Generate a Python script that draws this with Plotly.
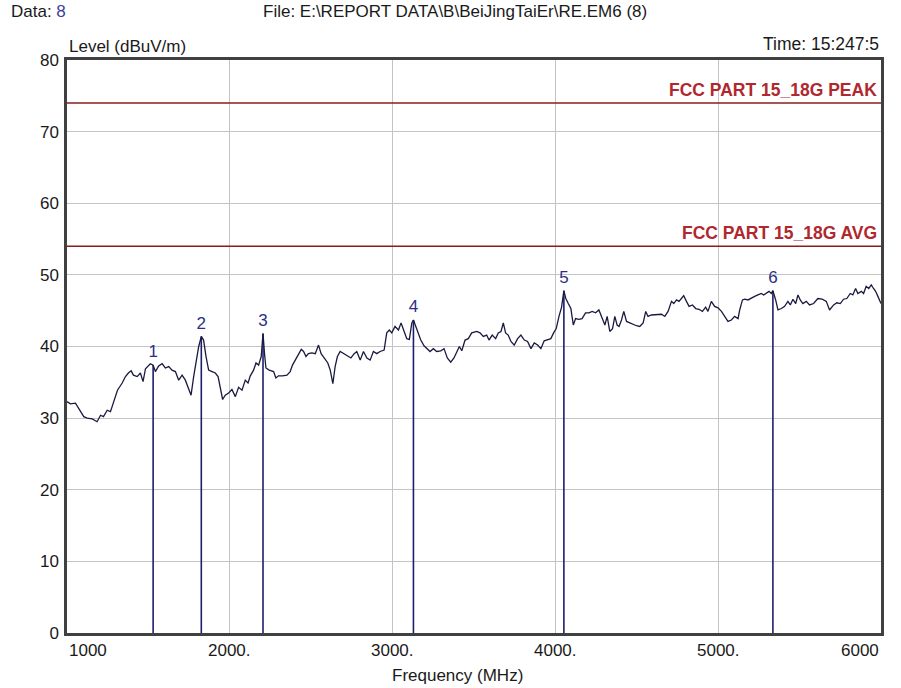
import plotly.graph_objects as go

freq_mhz = [1000, 1021, 1052, 1072, 1103, 1124, 1155, 1185, 1206, 1224, 1247, 1267, 1285, 1310, 1339, 1359,
            1377, 1394, 1408, 1431, 1451, 1467, 1482, 1496, 1512, 1529, 1543, 1563, 1584, 1604, 1625, 1645,
            1666, 1686, 1707, 1727, 1747, 1762, 1778, 1794, 1809, 1825, 1839, 1854, 1870, 1891, 1911, 1928,
            1942, 1956, 1972, 1993, 2013, 2034, 2054, 2075, 2095, 2112, 2126, 2146, 2161, 2177, 2193, 2204,
            2214, 2222, 2242, 2269, 2283, 2299, 2324, 2351, 2371, 2385, 2402, 2422, 2439, 2453, 2468, 2483,
            2504, 2525, 2545, 2561, 2582, 2602, 2617, 2633, 2647, 2661, 2678, 2698, 2719, 2744, 2764, 2780,
            2801, 2821, 2842, 2862, 2882, 2903, 2923, 2948, 2964, 2980, 2995, 3015, 3036, 3052, 3071, 3087,
            3103, 3118, 3128, 3144, 3158, 3173, 3193, 3213, 3230, 3250, 3271, 3296, 3316, 3336, 3357, 3377,
            3394, 3410, 3425, 3445, 3465, 3486, 3517, 3537, 3557, 3578, 3592, 3612, 3633, 3649, 3666, 3680,
            3694, 3710, 3727, 3747, 3768, 3788, 3809, 3829, 3850, 3870, 3891, 3911, 3931, 3952, 3972, 3989,
            4005, 4022, 4038, 4052, 4064, 4079, 4095, 4110, 4124, 4144, 4164, 4185, 4206, 4226, 4247, 4267,
            4287, 4304, 4318, 4334, 4351, 4365, 4379, 4391, 4406, 4420, 4437, 4457, 4477, 4498, 4518, 4539,
            4555, 4569, 4590, 4621, 4652, 4672, 4692, 4713, 4727, 4744, 4759, 4774, 4788, 4805, 4821, 4842,
            4862, 4882, 4903, 4923, 4937, 4958, 4978, 4999, 5020, 5040, 5060, 5081, 5101, 5122, 5132, 5149,
            5163, 5183, 5204, 5224, 5244, 5265, 5279, 5296, 5312, 5326, 5336, 5353, 5367, 5388, 5408, 5428,
            5443, 5459, 5476, 5490, 5504, 5520, 5541, 5561, 5586, 5612, 5639, 5664, 5684, 5709, 5729, 5750,
            5770, 5790, 5811, 5827, 5844, 5858, 5879, 5893, 5909, 5925, 5940, 5954, 5967, 5981, 6000]

level_dbuv = [32.3, 32.0, 32.1, 31.4, 30.2, 30.0, 29.9, 29.5, 30.4, 30.2, 31.1, 30.9, 32.3, 33.9, 34.9, 35.8,
              36.3, 36.6, 36.0, 35.8, 36.3, 35.1, 36.9, 37.3, 37.6, 37.4, 36.5, 37.3, 37.6, 37.0, 37.2, 36.7,
              36.5, 35.3, 36.0, 35.3, 34.2, 33.2, 35.8, 38.1, 40.0, 41.4, 40.9, 38.6, 36.7, 36.5, 36.3, 35.8,
              33.9, 32.6, 33.2, 33.5, 34.0, 33.0, 34.3, 33.9, 35.3, 34.9, 35.9, 36.7, 37.7, 37.4, 38.6, 41.8,
              38.8, 37.0, 36.7, 36.5, 35.6, 35.9, 35.9, 36.0, 36.5, 37.4, 38.1, 39.0, 39.6, 39.3, 38.6, 39.0,
              39.1, 39.0, 40.2, 39.0, 38.4, 37.7, 36.7, 34.8, 37.2, 38.6, 39.3, 39.0, 38.8, 38.4, 39.0, 39.3,
              38.1, 39.3, 38.4, 38.1, 39.3, 39.0, 39.3, 39.5, 41.9, 42.3, 41.9, 42.8, 42.3, 43.3, 42.1, 41.1,
              41.0, 43.3, 43.7, 42.8, 41.9, 40.9, 40.1, 39.6, 39.3, 39.7, 39.3, 39.4, 39.7, 38.4, 37.8, 38.4,
              39.3, 40.0, 39.4, 40.9, 41.1, 41.9, 42.1, 41.9, 41.4, 41.6, 40.9, 41.6, 41.1, 41.9, 42.1, 43.3,
              41.9, 41.6, 40.7, 40.2, 41.1, 41.6, 40.9, 40.7, 39.7, 40.5, 40.2, 39.7, 40.8, 41.0, 41.1, 41.9,
              42.5, 44.2, 45.5, 47.8, 46.7, 46.0, 45.3, 43.0, 43.9, 43.8, 43.9, 44.7, 44.7, 44.9, 44.7, 45.1,
              43.9, 43.0, 44.2, 42.1, 42.5, 44.2, 43.0, 42.8, 43.7, 44.9, 43.5, 43.3, 43.0, 42.9, 42.8, 43.3,
              44.9, 44.2, 44.4, 44.4, 44.5, 44.2, 44.9, 46.3, 46.0, 46.5, 46.3, 46.7, 47.1, 46.3, 45.6, 45.8,
              45.3, 45.2, 44.9, 45.5, 44.9, 46.3, 45.6, 45.4, 44.9, 44.2, 43.5, 43.7, 44.2, 43.9, 45.1, 46.5,
              46.6, 46.5, 46.7, 47.0, 47.2, 47.4, 47.2, 47.4, 47.7, 47.4, 47.8, 46.5, 45.1, 45.3, 45.6, 46.3,
              45.8, 46.6, 46.0, 47.2, 46.5, 46.0, 46.3, 45.8, 46.0, 46.7, 46.6, 46.3, 45.1, 45.8, 46.1, 46.0,
              46.6, 46.7, 47.4, 47.2, 48.1, 47.4, 47.7, 47.4, 48.4, 48.1, 48.6, 48.1, 47.7, 47.0, 46.0]

marker_ids = ["1", "2", "3", "4", "5", "6"]
marker_freq = [1529, 1825, 2204, 3128, 4052, 5336]
marker_level = [37.4, 41.4, 41.8, 43.7, 47.8, 47.8]

limit_names = ["FCC PART 15_18G PEAK", "FCC PART 15_18G AVG"]
limit_levels = [74, 54]

x_tick_vals = [1000, 2000, 3000, 4000, 5000, 6000]
x_tick_text = ["1000", "2000.", "3000.", "4000.", "5000.", "6000"]
y_tick_vals = [0, 10, 20, 30, 40, 50, 60, 70, 80]

FONT = "Liberation Sans, Arial, sans-serif"
TXT = "#1a1a1a"

fig = go.Figure()

# limit lines
for name, lv in zip(limit_names, limit_levels):
    fig.add_trace(go.Scatter(x=[1000, 6000], y=[lv, lv], mode="lines",
                             line=dict(color="#8b1c1c", width=1.5), hoverinfo="skip", showlegend=False))
    fig.add_annotation(x=5985, y=lv, xref="x", yref="y", text="<b>" + name + "</b>", showarrow=False,
                       xanchor="right", yanchor="bottom", yshift=1,
                       font=dict(family=FONT, size=17.5, color="#b0282e"))

# marker vertical lines
mx, my = [], []
for f, lv in zip(marker_freq, marker_level):
    mx += [f, f, None]
    my += [0, lv, None]
fig.add_trace(go.Scatter(x=mx, y=my, mode="lines", line=dict(color="#1c1f6e", width=1.6),
                         hoverinfo="skip", showlegend=False))

# spectrum trace
fig.add_trace(go.Scatter(x=freq_mhz, y=level_dbuv, mode="lines",
                         line=dict(color="#1a1a40", width=1.3), showlegend=False))

# marker labels
fig.add_trace(go.Scatter(x=marker_freq, y=[v + 0.5 for v in marker_level], mode="text",
                         text=marker_ids, textposition="top center",
                         textfont=dict(family=FONT, size=17, color="#2b2f86"),
                         hoverinfo="skip", showlegend=False))

# x tick labels
for i, (v, t) in enumerate(zip(x_tick_vals, x_tick_text)):
    anchor = "left" if i == 0 else ("right" if i == len(x_tick_vals) - 1 else "center")
    fig.add_annotation(x=v, y=0, xref="x", yref="y", text=t, showarrow=False,
                       xanchor=anchor, yanchor="top", yshift=-6,
                       font=dict(family=FONT, size=17, color=TXT))

# header texts
fig.add_annotation(text="Data: <span style='color:#3a3ea0'>8</span>", x=-0.071, y=1.084,
                   xref="paper", yref="paper", xanchor="left", yanchor="middle", showarrow=False,
                   font=dict(family=FONT, size=17, color=TXT))
fig.add_annotation(text="File: E:\\REPORT DATA\\B\\BeiJingTaiEr\\RE.EM6 (8)", x=0.477, y=1.084,
                   xref="paper", yref="paper", xanchor="center", yanchor="middle", showarrow=False,
                   font=dict(family=FONT, size=17, color=TXT))
fig.add_annotation(text="Level (dBuV/m)", x=0, y=1.0, xref="x domain", yref="y domain",
                   xanchor="left", yanchor="bottom", yshift=2, showarrow=False,
                   font=dict(family=FONT, size=17, color=TXT))
fig.add_annotation(text="Time: 15:247:5", x=1.0, y=1.0, xref="x domain", yref="y domain",
                   xanchor="right", yanchor="bottom", yshift=4, showarrow=False,
                   font=dict(family=FONT, size=17.5, color=TXT))
fig.add_annotation(text="Frequency (MHz)", x=0.48, y=-0.0733, xref="x domain", yref="paper",
                   xanchor="center", yanchor="middle", showarrow=False,
                   font=dict(family=FONT, size=17, color=TXT))

fig.update_xaxes(range=[1000, 6000], tickvals=x_tick_vals, showticklabels=False, automargin=False,
                 showgrid=True, gridcolor="#c4c4c4", gridwidth=1, zeroline=False,
                 showline=True, linecolor="#404040", linewidth=2.5, mirror=True, ticks="")
fig.update_yaxes(range=[0, 80], tickvals=y_tick_vals, ticktext=[str(v) for v in y_tick_vals],
                 automargin=False, ticklabelstandoff=2,
                 showgrid=True, gridcolor="#c4c4c4", gridwidth=1, zeroline=False,
                 showline=True, linecolor="#404040", linewidth=2.5, mirror=True, ticks="",
                 tickfont=dict(family=FONT, size=17, color=TXT))

fig.update_layout(width=901, height=688, margin=dict(l=67, r=20, t=60, b=55),
                  plot_bgcolor="white", paper_bgcolor="white", showlegend=False)

fig.write_html("out.html", config={"displayModeBar": False},
               post_script="document.body.style.margin='0';document.body.style.overflow='hidden';")
